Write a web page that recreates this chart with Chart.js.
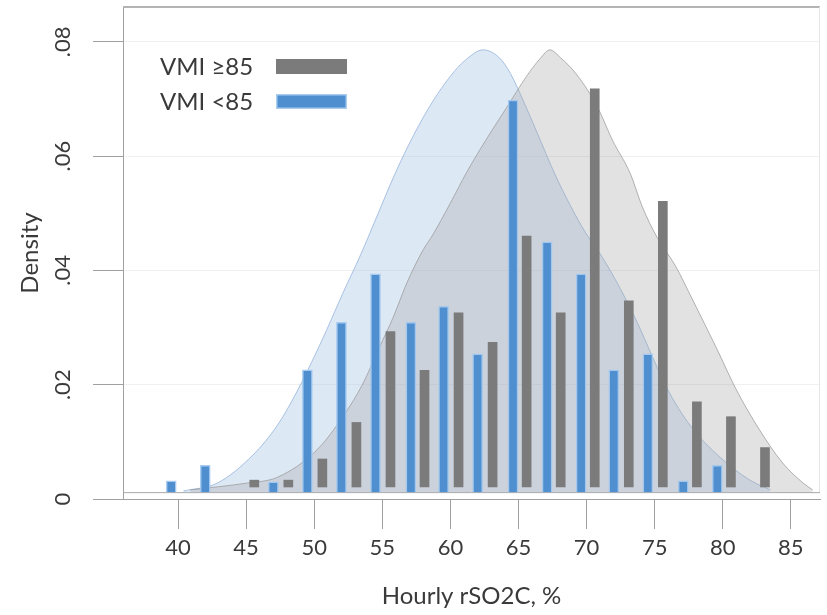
<!DOCTYPE html>
<html>
<head>
<meta charset="utf-8">
<script src="https://cdn.jsdelivr.net/npm/chart.js@4.4.0/dist/chart.umd.min.js"></script>
<style>
  html, body { margin: 0; padding: 0; background: #fff; }
  #wrap { width: 827px; height: 615px; position: relative; }
</style>
</head>
<body>
<div id="wrap"><canvas id="chart"></canvas></div>
<script>
// histogram bins (hourly rSO2C, %) and densities
const binsHigh = [45.6, 48.1, 50.6, 53.1, 55.6, 58.1, 60.6, 63.1, 65.6, 68.1, 70.6, 73.1, 75.6, 78.1, 80.6, 83.1];
const densHigh = [0.0033, 0.0033, 0.0070, 0.0134, 0.0293, 0.0225, 0.0326, 0.0274, 0.0460, 0.0326, 0.0718, 0.0347, 0.0521, 0.0170, 0.0144, 0.0090];
const binsLow = [39.5, 42.0, 47.0, 49.5, 52.0, 54.5, 57.1, 59.5, 62.0, 64.6, 67.1, 69.6, 72.0, 74.5, 77.1, 79.6];
const densLow = [0.0032, 0.0059, 0.0030, 0.0226, 0.0309, 0.0394, 0.0309, 0.0337, 0.0254, 0.0698, 0.0450, 0.0394, 0.0226, 0.0254, 0.0032, 0.0059];

// shaded density curves
const curveLowX = [40.4, 42.9, 45.5, 47.3, 48.6, 49.8, 50.9, 52.1, 53.4, 54.7, 55.8, 56.9, 58.4, 60.0, 61.1, 62.4, 63.6, 64.4, 65.5, 66.6, 67.7, 68.8, 69.9, 71.0, 72.5, 73.7, 74.8, 75.9, 77.6, 79.8, 82.0, 83.5];
const curveLowY = [0.0014, 0.0028, 0.0077, 0.0129, 0.0182, 0.0239, 0.0295, 0.0360, 0.0427, 0.0500, 0.0562, 0.0618, 0.0684, 0.0740, 0.0768, 0.0786, 0.0772, 0.0745, 0.0689, 0.0628, 0.0567, 0.0514, 0.0467, 0.0429, 0.0367, 0.0310, 0.0251, 0.0194, 0.0129, 0.0073, 0.0033, 0.0016];
const curveHighX = [40.9, 45.1, 47.3, 50.2, 52.1, 53.6, 54.7, 55.8, 56.8, 58.0, 58.7, 60.0, 61.2, 62.6, 64.1, 65.6, 66.6, 67.3, 68.1, 69.3, 70.8, 71.9, 73.2, 74.1, 75.2, 76.5, 77.8, 79.6, 81.0, 82.7, 84.4, 85.9, 86.6];
const curveHighY = [0.0016, 0.0028, 0.0038, 0.0086, 0.0144, 0.0203, 0.0261, 0.0318, 0.0378, 0.0436, 0.0462, 0.0518, 0.0572, 0.0628, 0.0684, 0.0740, 0.0771, 0.0786, 0.0772, 0.0742, 0.0686, 0.0628, 0.0570, 0.0511, 0.0457, 0.0409, 0.0348, 0.0261, 0.0191, 0.0121, 0.0063, 0.0028, 0.0016];

const labelHigh = 'VMI \u226585';
const labelLow = 'VMI <85';

const FONT = 'Lato, "Open Sans", sans-serif';
const TEXT = '#3a3a3a';
const GREY = '#7b7b7b';
const BLUE = '#4f8fcf';
const BASE_LINE = 0.0012;

function pairs(xs, ys) {
    return xs.map((x, i) => ({ x: x, y: ys[i] }));
}

// box around the plot region (top, right and inner bottom edge)
const plotFrame = {
    id: 'plotFrame',
    beforeDatasetsDraw(chart) {
        const { ctx, chartArea } = chart;
        const yb = chart.scales.y.getPixelForValue(BASE_LINE);
        ctx.save();
        ctx.lineWidth = 2;
        ctx.strokeStyle = '#b4b4b4';
        ctx.beginPath();
        ctx.moveTo(chartArea.left, chartArea.top);
        ctx.lineTo(chartArea.right, chartArea.top);
        ctx.stroke();
        ctx.lineWidth = 1;
        ctx.strokeStyle = '#e4e4e4';
        ctx.beginPath();
        ctx.moveTo(chartArea.right - 0.5, chartArea.top);
        ctx.lineTo(chartArea.right - 0.5, yb);
        ctx.stroke();
        ctx.strokeStyle = '#a8a8a8';
        ctx.beginPath();
        ctx.moveTo(chartArea.left, yb + 0.5);
        ctx.lineTo(chartArea.right, yb + 0.5);
        ctx.stroke();
        ctx.restore();
    }
};

// legend with the text first and the colour bar after it
const textLegend = {
    id: 'textLegend',
    afterDraw(chart) {
        const ctx = chart.ctx;
        const bars = chart.data.datasets.filter(d => d.type === 'bar');
        ctx.save();
        ctx.font = '24px ' + FONT;
        ctx.textBaseline = 'middle';
        bars.forEach((d, i) => {
            const y = 67 + i * 35;
            ctx.fillStyle = TEXT;
            ctx.fillText(d.label, 160, y);
            ctx.fillStyle = d.borderWidth ? d.borderColor : d.backgroundColor;
            ctx.fillRect(276, y - 8, 71, 15);
            ctx.fillStyle = d.backgroundColor;
            ctx.fillRect(277.5, y - 6.5, 68, 12);
        });
        ctx.restore();
    }
};

new Chart(document.getElementById('chart'), {
    type: 'bar',
    data: {
        datasets: [
            {
                type: 'bar',
                label: labelHigh,
                data: pairs(binsHigh, densHigh),
                backgroundColor: GREY,
                borderWidth: 0,
                barThickness: 9,
                base: 0.0021,
                grouped: false,
                order: 1
            },
            {
                type: 'bar',
                label: labelLow,
                data: pairs(binsLow, densLow),
                backgroundColor: BLUE,
                borderColor: 'rgba(160,200,240,0.9)',
                borderWidth: 1.5,
                barThickness: 10,
                base: BASE_LINE,
                grouped: false,
                order: 2
            },
            {
                type: 'line',
                label: 'curve high',
                data: pairs(curveHighX, curveHighY),
                borderColor: 'rgba(150,150,150,0.7)',
                backgroundColor: 'rgba(160,160,160,0.30)',
                borderWidth: 1,
                pointRadius: 0,
                cubicInterpolationMode: 'monotone',
                fill: { value: BASE_LINE },
                order: 3
            },
            {
                type: 'line',
                label: 'curve low',
                data: pairs(curveLowX, curveLowY),
                borderColor: 'rgba(150,180,220,0.8)',
                backgroundColor: 'rgba(175,200,232,0.42)',
                borderWidth: 1,
                pointRadius: 0,
                cubicInterpolationMode: 'monotone',
                fill: { value: BASE_LINE },
                order: 4
            }
        ]
    },
    options: {
        responsive: true,
        maintainAspectRatio: false,
        animation: false,
        layout: { padding: { top: 7, right: 7, left: 0, bottom: 0 } },
        plugins: {
            legend: { display: false },
            tooltip: { enabled: false }
        },
        scales: {
            x: {
                type: 'linear',
                min: 35.96,
                max: 87.14,
                offset: false,
                ticks: {
                    stepSize: 5,
                    includeBounds: false,
                    maxRotation: 0,
                    color: TEXT,
                    padding: 6,
                    font: { family: FONT, size: 22 }
                },
                grid: { offset: false, drawOnChartArea: false, tickLength: 30, tickColor: '#a0a0a0' },
                border: { color: '#a0a0a0' },
                title: {
                    display: true,
                    text: 'Hourly rSO2C, %',
                    color: TEXT,
                    font: { family: FONT, size: 24 },
                    padding: { top: 0, bottom: 4 }
                },
                afterFit(scale) {
                    scale.height = 116;
                    scale.paddingLeft = 0;
                    scale.paddingRight = 0;
                }
            },
            y: {
                min: 0,
                max: 0.0861,
                ticks: {
                    stepSize: 0.02,
                    includeBounds: false,
                    minRotation: 90,
                    maxRotation: 90,
                    crossAlign: 'center',
                    padding: 15,
                    color: TEXT,
                    font: { family: FONT, size: 22 },
                    callback: v => v === 0 ? '0' : v.toFixed(2).replace(/^0/, '')
                },
                grid: { color: '#f0f0f0', tickLength: 30, tickColor: '#a0a0a0' },
                border: { color: '#a0a0a0' },
                title: {
                    display: true,
                    text: 'Density',
                    color: TEXT,
                    font: { family: FONT, size: 24 },
                    padding: { top: 16, bottom: 0 }
                },
                afterFit(scale) {
                    scale.width = 123;
                    scale.paddingTop = 0;
                    scale.paddingBottom = 0;
                }
            }
        }
    },
    plugins: [plotFrame, textLegend]
});
</script>
</body>
</html>
